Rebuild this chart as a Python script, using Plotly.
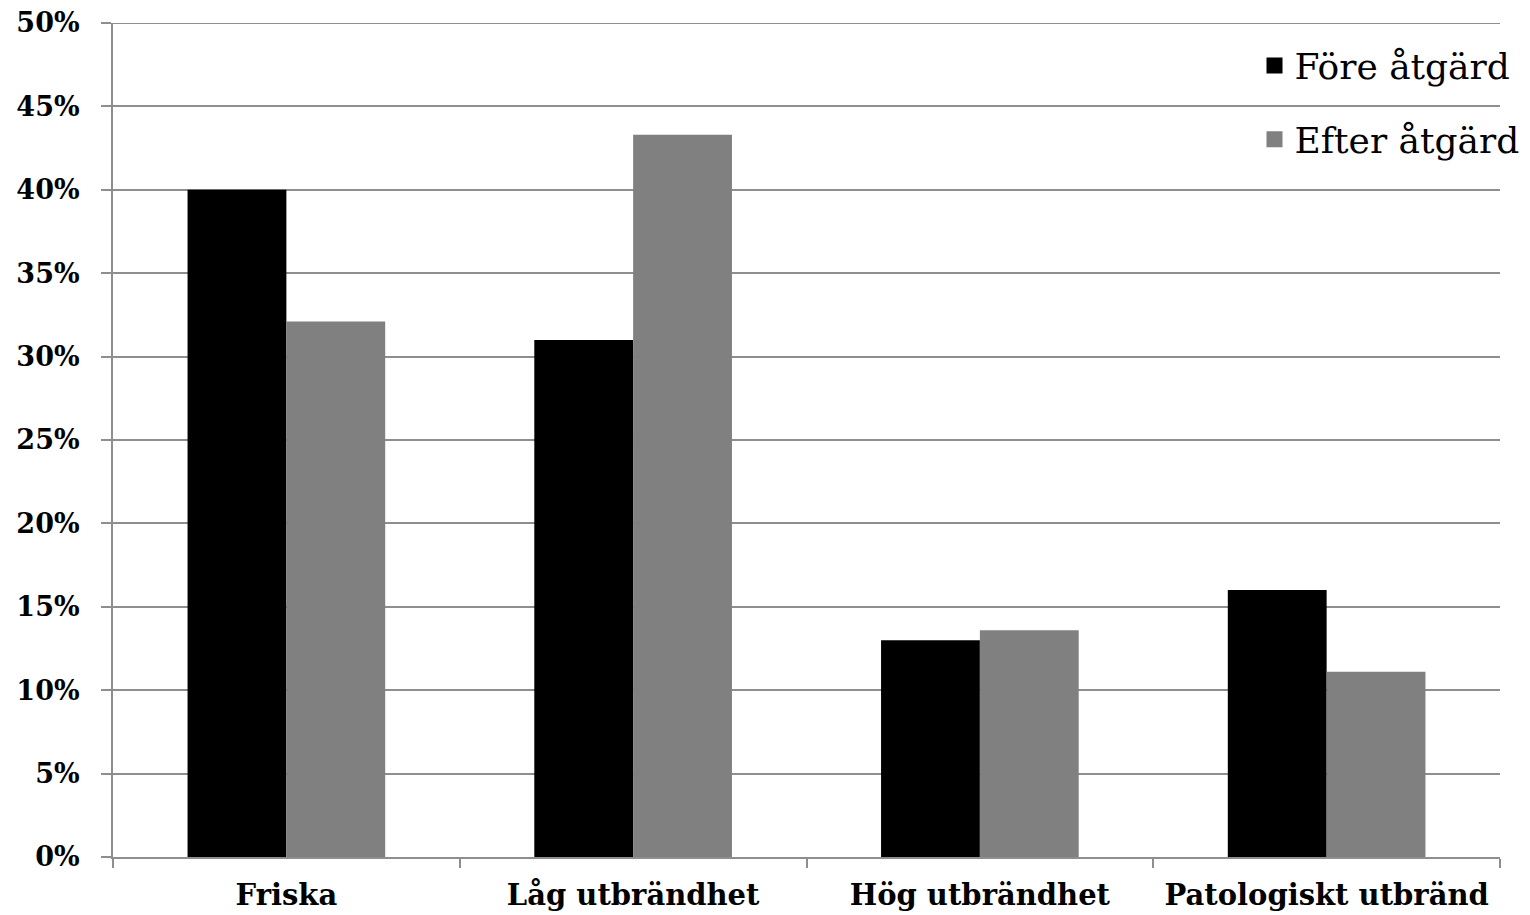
import plotly.graph_objects as go

categories = ["Friska", "Låg utbrändhet", "Hög utbrändhet", "Patologiskt utbränd"]
fore = [0.40, 0.31, 0.13, 0.16]
efter = [0.321, 0.433, 0.136, 0.111]
series_names = ["Före åtgärd", "Efter åtgärd"]
series_colors = ["#000000", "#808080"]
tick_vals = [0, 0.05, 0.10, 0.15, 0.20, 0.25, 0.30, 0.35, 0.40, 0.45, 0.50]
tick_text = ["0%", "5%", "10%", "15%", "20%", "25%", "30%", "35%", "40%", "45%", "50%"]
y_max = 0.5

serif = "Georgia, 'DejaVu Serif', serif"
grid = "#8e8e8e"

fig = go.Figure()
for name, vals, col in zip(series_names, [fore, efter], series_colors):
    fig.add_trace(go.Bar(x=categories, y=vals, name=name, showlegend=False,
                         marker=dict(color=col, line=dict(width=0))))
# legend entries with larger square swatches
for i, (name, col) in enumerate(zip(series_names, series_colors)):
    fig.add_trace(go.Scatter(x=[None], y=[None], mode="markers", name=name,
                             legendgroup=f"g{i}",
                             marker=dict(symbol="square", size=21, color=col)))

# top gridline at the range edge (plotly omits it)
fig.add_shape(type="line", xref="paper", x0=0, x1=1, yref="y", y0=y_max, y1=y_max,
              line=dict(color=grid, width=2), layer="below")

fig.update_layout(
    width=1530, height=915,
    margin=dict(l=105, r=38, t=15, b=66, autoexpand=False),
    paper_bgcolor="white", plot_bgcolor="white",
    barmode="group", bargap=0.43, bargroupgap=0,
    font=dict(family=serif, color="black"),
    legend=dict(
        x=0.823, y=0.985, xanchor="left", yanchor="top",
        font=dict(family=serif, size=36, color="black"),
        bgcolor="rgba(0,0,0,0)", tracegroupgap=24, itemwidth=30,
    ),
    xaxis=dict(
        showline=True, linecolor=grid, linewidth=2,
        ticks="outside", tickson="boundaries", ticklen=9, tickcolor=grid, tickwidth=2,
        tickfont=dict(family=serif, size=29, color="black", weight="bold"),
        showgrid=False, ticklabelstandoff=11,
    ),
    yaxis=dict(
        range=[0, y_max], tickvals=tick_vals, ticktext=tick_text,
        showline=True, linecolor=grid, linewidth=2,
        ticks="outside", ticklen=10, tickcolor=grid, tickwidth=2,
        showgrid=True, gridcolor=grid, gridwidth=2,
        tickfont=dict(family=serif, size=27, color="black", weight="bold"),
        ticklabelstandoff=16, zeroline=False, ticklabeloverflow="allow",
    ),
)

fig.write_html("out.html")
